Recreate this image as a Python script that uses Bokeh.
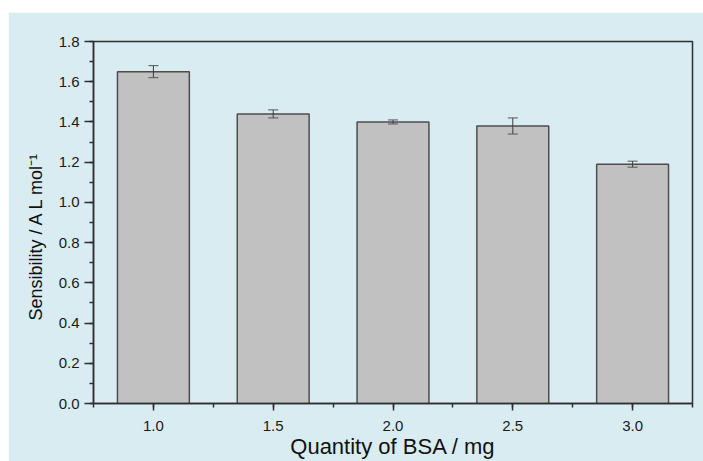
from bokeh.plotting import figure
from bokeh.embed import file_html
from bokeh.resources import INLINE
from bokeh.models import (ColumnDataSource, Whisker, TeeHead, SingleIntervalTicker,
                          NumeralTickFormatter, Range1d, Spacer, Title)
from bokeh.layouts import column, row

# BSA quantity (mg) and measured sensibility (A L mol^-1) with error
bsa_mg = [1.0, 1.5, 2.0, 2.5, 3.0]
sensibility = [1.65, 1.44, 1.40, 1.38, 1.19]
error = [0.03, 0.02, 0.01, 0.04, 0.015]

BG = "#d9ecf2"
FRAME = "#2e2e2e"
FONT = "Liberation Sans"

src = ColumnDataSource(dict(
    x=bsa_mg,
    top=sensibility,
    upper=[v + e for v, e in zip(sensibility, error)],
    lower=[v - e for v, e in zip(sensibility, error)],
))

p = figure(width=695, height=449, output_backend="svg", toolbar_location=None,
           x_range=Range1d(0.75, 3.25), y_range=Range1d(0, 1.8),
           min_border_left=85, min_border_top=29, min_border_right=11, min_border_bottom=58)
p.background_fill_color = BG
p.border_fill_color = BG
p.outline_line_color = FRAME
p.outline_line_width = 1.5
p.grid.visible = False

p.vbar(x="x", top="top", width=0.3, bottom=0, source=src,
       fill_color="#c1c1c1", line_color="#4d4d4d", line_width=1.5)

whisk = Whisker(base="x", upper="upper", lower="lower", source=src, level="overlay",
                line_color="#3c3c3c", line_width=1,
                upper_head=TeeHead(size=10, line_color="#555555", line_width=1),
                lower_head=TeeHead(size=10, line_color="#555555", line_width=1))
p.add_layout(whisk)

xa = p.xaxis[0]
xa.ticker = SingleIntervalTicker(interval=0.5, num_minor_ticks=2)
xa.formatter = NumeralTickFormatter(format="0.0")
xa.axis_label = "Quantity of BSA / mg"
xa.axis_label_text_font = FONT
xa.axis_label_text_font_size = "22px"
xa.axis_label_text_font_style = "normal"
xa.axis_label_text_color = "#111111"
xa.axis_label_text_line_height = 1.0
xa.axis_label_standoff = 0
xa.major_tick_out = 7
xa.major_tick_in = 0
xa.minor_tick_out = 4
xa.minor_tick_in = 0
xa.major_label_standoff = 10
xa.major_label_text_line_height = 1.0

ya = p.yaxis[0]
ya.ticker = SingleIntervalTicker(interval=0.2, num_minor_ticks=2)
ya.formatter = NumeralTickFormatter(format="0.0")
ya.major_tick_out = 9
ya.major_tick_in = 0
ya.minor_tick_out = 4
ya.minor_tick_in = 0
ya.major_label_standoff = 5

for ax in (xa, ya):
    ax.axis_line_color = FRAME
    ax.axis_line_width = 1.5
    ax.major_tick_line_color = FRAME
    ax.major_tick_line_width = 1.5
    ax.minor_tick_line_color = FRAME
    ax.minor_tick_line_width = 1.5
    ax.major_label_text_font = FONT
    ax.major_label_text_font_size = "15px"
    ax.major_label_text_color = "#1a1a1a"

# vertical axis title, starting a little above the frame's bottom edge
ytitle = Title(text="Sensibility / A L mol\u207b\u00b9", align="left", offset=83,
               standoff=20, text_font=FONT, text_font_size="18px",
               text_font_style="normal", text_color="#111111")
p.add_layout(ytitle, "left")

layout = column(Spacer(height=12), row(Spacer(width=8), p))
open("out.html", "w").write(file_html(layout, INLINE))
